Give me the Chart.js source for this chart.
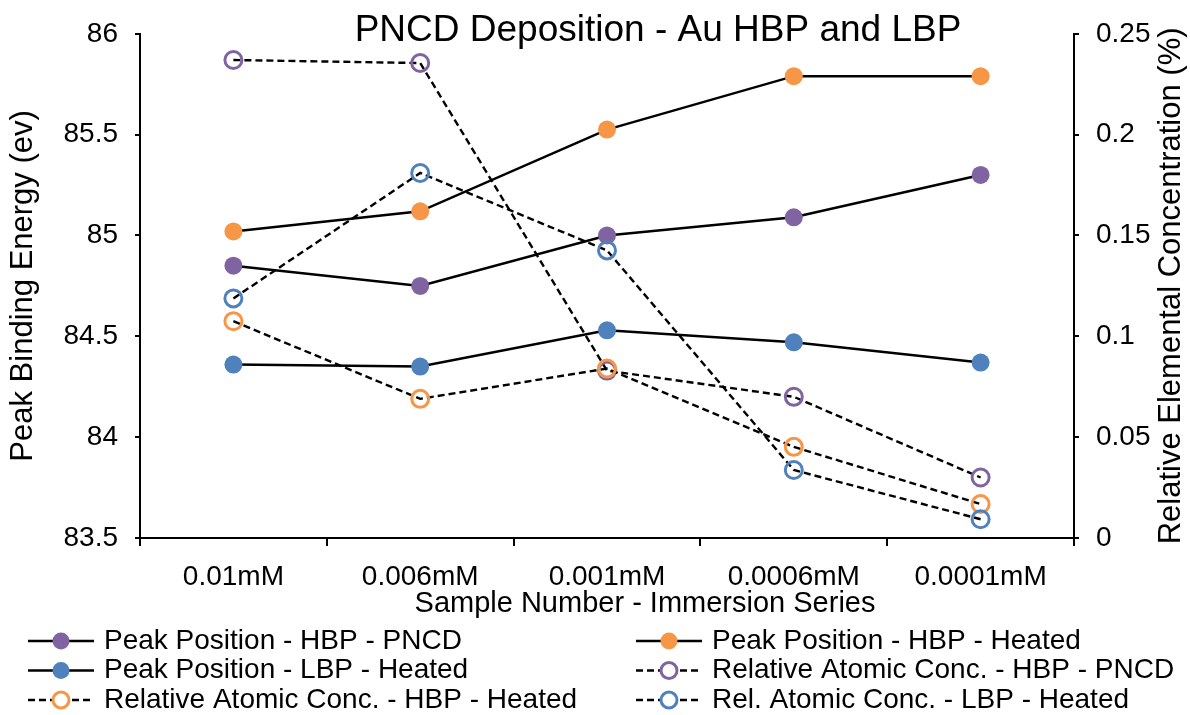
<!DOCTYPE html>
<html>
<head>
<meta charset="utf-8">
<title>PNCD Deposition - Au HBP and LBP</title>
<script src="https://cdn.jsdelivr.net/npm/chart.js@4/dist/chart.umd.min.js"></script>
<style>
  html, body { margin: 0; padding: 0; background: #fff; }
  #wrap { width: 1190px; height: 715px; position: relative; }
</style>
</head>
<body>
<div id="wrap"><canvas id="chart" width="1190" height="715"></canvas></div>
<script>
// ---- data ----
const categories = ['0.01mM', '0.006mM', '0.001mM', '0.0006mM', '0.0001mM'];

const seriesNames = [
  'Peak Position - HBP - PNCD',
  'Peak Position - HBP - Heated',
  'Peak Position - LBP - Heated',
  'Relative Atomic Conc. - HBP - PNCD',
  'Relative Atomic Conc. - HBP - Heated',
  'Rel. Atomic Conc. - LBP - Heated'
];

// peak binding energy (eV), left axis
const peakHbpPncd   = [84.85, 84.75, 85.00, 85.09, 85.30];
const peakHbpHeated = [85.02, 85.12, 85.525, 85.79, 85.79];
const peakLbpHeated = [84.36, 84.35, 84.53, 84.47, 84.37];

// relative elemental concentration (%), right axis
const concHbpPncd   = [0.237, 0.2355, 0.083, 0.070, 0.030];
const concHbpHeated = [0.1075, 0.069, 0.084, 0.0452, 0.0168];
const concLbpHeated = [0.1188, 0.181, 0.1426, 0.0337, 0.0093];

const leftTickValues  = [83.5, 84, 84.5, 85, 85.5, 86];
const rightTickValues = [0, 0.05, 0.1, 0.15, 0.2, 0.25];

const chartTitle = 'PNCD Deposition - Au HBP and LBP';
const xTitle = 'Sample Number - Immersion Series';
const leftTitle = 'Peak Binding Energy (ev)';
const rightTitle = 'Relative Elemental Concentration (%)';

// ---- styling ----
const FONT = "'Liberation Sans', Arial, Helvetica, sans-serif";
const PURPLE = '#8064A2', ORANGE = '#F79646', BLUE = '#4F81BD';

function peakSeries(label, data, color, order) {
  return {
    label, data, order, yAxisID: 'y',
    borderColor: '#000', borderWidth: 2.5, tension: 0, fill: false,
    pointRadius: 9, pointHoverRadius: 9,
    pointBackgroundColor: color, pointBorderColor: color, pointBorderWidth: 0,
    filled: true
  };
}
function concSeries(label, data, color, order) {
  return {
    label, data, order, yAxisID: 'y1',
    borderColor: '#000', borderWidth: 2.4, borderDash: [7, 4], tension: 0, fill: false,
    pointRadius: 8.5, pointHoverRadius: 8.5,
    pointBackgroundColor: 'rgba(0,0,0,0)', pointBorderColor: color, pointBorderWidth: 3,
    filled: false
  };
}

const datasets = [
  peakSeries(seriesNames[0], peakHbpPncd, PURPLE, 5),
  peakSeries(seriesNames[1], peakHbpHeated, ORANGE, 4),
  peakSeries(seriesNames[2], peakLbpHeated, BLUE, 3),
  concSeries(seriesNames[3], concHbpPncd, PURPLE, 2),
  concSeries(seriesNames[4], concHbpHeated, ORANGE, 1),
  concSeries(seriesNames[5], concLbpHeated, BLUE, 0)
];

// chart title, x title, right-hand axis title (reading upward) and the two-column legend
const decorations = {
  id: 'decorations',
  afterDraw(chart) {
    const ctx = chart.ctx;
    const area = chart.chartArea;
    ctx.save();
    ctx.fillStyle = '#000';
    ctx.textBaseline = 'middle';
    ctx.textAlign = 'center';

    ctx.font = `37px ${FONT}`;
    ctx.fillText(chartTitle, 658, 31);

    ctx.font = `29px ${FONT}`;
    ctx.fillText(xTitle, 645, 604);

    ctx.save();
    ctx.translate(1171, (area.top + area.bottom) / 2);
    ctx.rotate(-Math.PI / 2);
    ctx.font = `31px ${FONT}`;
    ctx.fillText(rightTitle, 0, 0);
    ctx.restore();

    ctx.font = `28px ${FONT}`;
    ctx.textAlign = 'left';
    chart.data.datasets.forEach((ds, i) => {
      const col = i % 2, row = Math.floor(i / 2);
      const x0 = col ? 636 : 28;
      const y = 641 + row * 29.5;
      ctx.save();
      ctx.strokeStyle = '#000';
      ctx.lineWidth = ds.borderWidth;
      ctx.setLineDash(ds.borderDash || []);
      ctx.beginPath();
      ctx.moveTo(x0, y);
      ctx.lineTo(x0 + 66, y);
      ctx.stroke();
      ctx.setLineDash([]);
      ctx.beginPath();
      ctx.arc(x0 + 33, y, ds.filled ? 8.5 : 8, 0, Math.PI * 2);
      if (ds.filled) {
        ctx.fillStyle = ds.pointBackgroundColor;
        ctx.fill();
      } else {
        ctx.fillStyle = '#fff';
        ctx.fill();
        ctx.lineWidth = 3;
        ctx.strokeStyle = ds.pointBorderColor;
        ctx.stroke();
      }
      ctx.restore();
      ctx.fillText(ds.label, x0 + 76, y);
    });
    ctx.restore();
  }
};

const axisLine = { display: true, color: '#000', width: 2 };

new Chart(document.getElementById('chart'), {
  type: 'line',
  data: { labels: categories, datasets },
  options: {
    responsive: false,
    animation: false,
    events: [],
    layout: { padding: { top: 33, bottom: 94, left: 0, right: 0 } },
    plugins: { legend: { display: false }, tooltip: { enabled: false }, title: { display: false } },
    scales: {
      x: {
        type: 'category',
        offset: true,
        border: axisLine,
        grid: { offset: true, drawOnChartArea: false, drawTicks: true, tickLength: 8, color: '#000', lineWidth: 2 },
        ticks: { color: '#000', font: { family: FONT, size: 28 }, padding: 14, maxRotation: 0, autoSkip: false },
        afterFit(s) { s.height = 83; }
      },
      y: {
        position: 'left',
        min: 83.5, max: 86,
        afterBuildTicks(s) { s.ticks = leftTickValues.map(v => ({ value: v })); },
        border: axisLine,
        grid: { drawOnChartArea: false, drawTicks: true, tickLength: 5, color: '#000', lineWidth: 2 },
        ticks: { color: '#000', font: { family: FONT, size: 28 }, padding: 17, callback: v => String(v) },
        title: { display: true, text: leftTitle, color: '#000', font: { family: FONT, size: 31 }, padding: { top: 5, bottom: 0 } },
        afterFit(s) { s.width = 140; }
      },
      y1: {
        position: 'right',
        min: 0, max: 0.25,
        afterBuildTicks(s) { s.ticks = rightTickValues.map(v => ({ value: v })); },
        border: axisLine,
        grid: { drawOnChartArea: false, drawTicks: true, tickLength: 5, color: '#000', lineWidth: 2 },
        ticks: { color: '#000', font: { family: FONT, size: 28 }, padding: 17, callback: v => String(+Number(v).toFixed(2)) },
        afterFit(s) { s.width = 116; }
      }
    }
  },
  plugins: [decorations]
});
</script>
</body>
</html>
